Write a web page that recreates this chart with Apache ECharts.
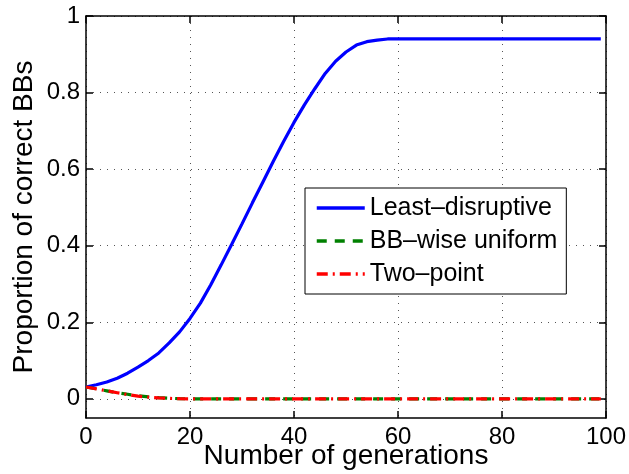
<!DOCTYPE html>
<html><head><meta charset="utf-8">
<script src="https://cdn.jsdelivr.net/npm/echarts@6/dist/echarts.min.js"></script>
<style>html,body{margin:0;padding:0;background:#fff}#c{width:629px;height:474px}</style>
</head><body><div id="c"></div>
<script>
// Least-disruptive curve (generation, proportion)
const ldGen = [0,2,4,6,8,10,12,14,16,18,20,22,24,26,28,30,32,34,36,38,40,42,44,46,48,50,52,54,56,58,60,70,80,90,99];
const ldVal = [0.031,0.037,0.044,0.054,0.067,0.083,0.100,0.120,0.146,0.175,0.210,0.250,0.298,0.350,0.403,0.457,0.512,0.566,0.620,0.672,0.722,0.768,0.810,0.850,0.882,0.906,0.924,0.933,0.937,0.940,0.940,0.940,0.940,0.940,0.940];
// BB-wise uniform
const bbGen = [0,2,4,6,8,10,12,14,16,18,20,30,40,50,60,70,80,90,99];
const bbVal = [0.031,0.026,0.021,0.016,0.012,0.008,0.005,0.003,0.0015,0.0005,0,0,0,0,0,0,0,0,0];
// Two-point
const tpGen = [0,2,4,6,8,10,12,14,16,18,20,30,40,50,60,70,80,90,99];
const tpVal = [0.031,0.026,0.021,0.016,0.011,0.007,0.0045,0.0025,0.0012,0.0004,0,0,0,0,0,0,0,0,0];
// Tick labels
const xTicks = [0,20,40,60,80,100];
const yTicks = [0,0.2,0.4,0.6,0.8,1];
const seriesNames = ['Least\u2013disruptive','BB\u2013wise uniform','Two\u2013point'];

const FONT = "'Liberation Sans', Arial, Helvetica, sans-serif";
const pairs = (xs, ys) => xs.map((x, i) => [x, ys[i]]);
const gridLine = {show: true, lineStyle: {color: '#555', width: 1, type: [1, 6]}};
const axLine = {show: true, onZero: false, lineStyle: {color: '#000', width: 1.5}};
const tick = {show: true, inside: true, length: 7, lineStyle: {color: '#000', width: 1.5}};

const chart = echarts.init(document.getElementById('c'), null, {renderer: 'canvas'});
chart.setOption({
  animation: false,
  backgroundColor: '#fff',
  textStyle: {fontFamily: FONT},
  grid: {left: 86, right: 23, top: 16, bottom: 56, containLabel: false, outerBoundsMode: 'none'},
  xAxis: [
    {type: 'value', min: 0, max: 100, interval: 20, position: 'bottom',
     axisLine: axLine, axisTick: tick, splitLine: gridLine,
     axisLabel: {color: '#000', fontSize: 24, fontFamily: FONT, margin: 7, customValues: xTicks},
     name: 'Number of generations', nameLocation: 'middle', nameGap: 24, nameMoveOverlap: false,
     nameTextStyle: {color: '#000', fontSize: 28, fontFamily: FONT, verticalAlign: 'top'}},
    {type: 'value', min: 0, max: 100, interval: 20, position: 'top',
     axisLine: axLine, axisTick: tick, splitLine: {show: false}, axisLabel: {show: false}}
  ],
  yAxis: [
    {type: 'value', min: -0.05, max: 1, position: 'left',
     axisLine: axLine, axisTick: Object.assign({}, tick, {customValues: yTicks}),
     splitLine: gridLine,
     axisLabel: {color: '#000', fontSize: 24, fontFamily: FONT, margin: 6, customValues: yTicks,
                 formatter: v => String(Math.round(v * 10) / 10)},
     name: 'Proportion of correct BBs', nameLocation: 'middle', nameGap: 48, nameRotate: 90,
     nameMoveOverlap: false,
     nameTextStyle: {color: '#000', fontSize: 28, fontFamily: FONT}},
    {type: 'value', min: -0.05, max: 1, position: 'right',
     axisLine: axLine, axisTick: Object.assign({}, tick, {customValues: yTicks}),
     splitLine: {show: false}, axisLabel: {show: false}}
  ],
  legend: {
    orient: 'vertical', left: 305, top: 188, selectedMode: false,
    itemWidth: 48, itemHeight: 14, itemGap: 7, padding: [7, 9, 7, 10],
    itemStyle: {opacity: 0},
    lineStyle: {width: 3.5},
    borderColor: '#000', borderWidth: 1, backgroundColor: '#fff',
    textStyle: {color: '#000', fontSize: 25, fontFamily: FONT, lineHeight: 26},
    data: seriesNames
  },
  series: [
    {name: seriesNames[0], type: 'line', symbol: 'none', data: pairs(ldGen, ldVal),
     lineStyle: {color: '#0000ff', width: 3.2}, itemStyle: {color: '#0000ff'}, z: 2},
    {name: seriesNames[1], type: 'line', symbol: 'none', data: pairs(bbGen, bbVal),
     lineStyle: {color: '#008000', width: 3.2, type: [10, 8]}, itemStyle: {color: '#008000'}, z: 3},
    {name: seriesNames[2], type: 'line', symbol: 'none', data: pairs(tpGen, tpVal),
     lineStyle: {color: '#ff0000', width: 3.2, type: [11, 5, 2, 5]}, itemStyle: {color: '#ff0000'}, z: 4}
  ]
});
</script>
</body></html>
